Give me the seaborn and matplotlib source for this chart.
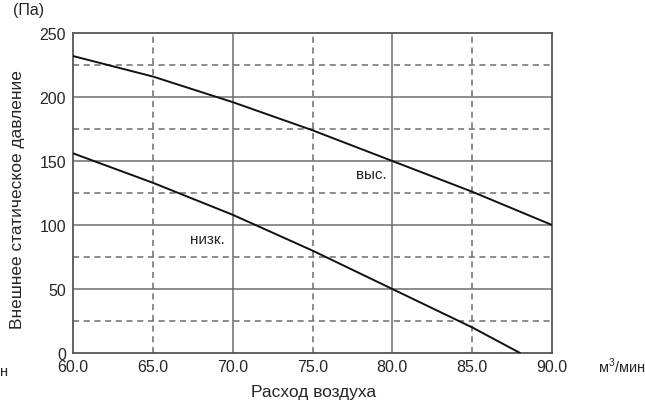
import matplotlib
matplotlib.use("Agg")
import matplotlib.pyplot as plt
import seaborn as sns
import pandas as pd

# data
flow_high = [60, 65, 70, 75, 80, 85, 90]
press_high = [232, 216, 196, 174, 150, 126, 100]
flow_low = [60, 65, 70, 75, 80, 85, 88]
press_low = [156, 133, 108, 80, 50, 20, 0]
x_ticks = [60, 65, 70, 75, 80, 85, 90]
y_ticks = [0, 50, 100, 150, 200, 250]
x_solid = [70, 80]
x_dashed = [65, 75, 85]
y_solid = [50, 100, 150, 200]
y_dashed = [25, 75, 125, 175, 225]

sns.set_style("white")
plt.rcParams['font.family'] = ['Liberation Sans', 'DejaVu Sans']

fig = plt.figure(figsize=(6.45, 4.10), dpi=100)
ax = fig.add_axes([73/645, 1-354/410, (552-73)/645, (354-34)/410])

df = pd.concat([
    pd.DataFrame({"flow": flow_high, "p": press_high, "s": "high"}),
    pd.DataFrame({"flow": flow_low, "p": press_low, "s": "low"}),
])

gc = "#6e6e6e"
for v in x_solid:
    ax.axvline(v, color=gc, lw=1.1, zorder=1)
for v in x_dashed:
    ax.axvline(v, color=gc, lw=1.1, ls=(0, (4, 3)), zorder=1)
for v in y_solid:
    ax.axhline(v, color=gc, lw=1.1, zorder=1)
for v in y_dashed:
    ax.axhline(v, color=gc, lw=1.1, ls=(0, (4, 3)), zorder=1)

sns.lineplot(data=df, x="flow", y="p", units="s", estimator=None, color="#111111",
             lw=1.4, ax=ax, legend=False, zorder=3)

ax.set_xlim(60, 90)
ax.set_ylim(0, 250)
ax.set_xticks(x_ticks)
ax.set_xticklabels([f"{v:.1f}" for v in x_ticks])
ax.set_yticks(y_ticks)
ax.tick_params(axis="x", length=0, labelsize=11.5, pad=4)
ax.tick_params(axis="y", length=0, labelsize=11.5, pad=5)
ax.set_xlabel("")
ax.set_ylabel("")
for s in ax.spines.values():
    s.set_color("#555555")
    s.set_linewidth(1.3)

ax.text(78.7, 140, "выс.", fontsize=11, ha="center", va="center")
ax.text(68.4, 89, "низк.", fontsize=11, ha="center", va="center")

fig.text(29/645, 1-11/410, "(Па)", fontsize=11.5, ha="center", va="center")
fig.text(18/645, 1-200/410, "Внешнее статическое давление", fontsize=12.5,
         rotation=90, ha="center", va="center")
fig.text(314/645, 1-393/410, "Расход воздуха", fontsize=12.5, ha="center", va="center")
fig.text(598/645, 1-366/410, "м$^{\\mathregular{3}}$/мин", fontsize=10.5, ha="left", va="center")
fig.text(9/645, 1-370/410, "м$^{\\mathregular{3}}$/мин", fontsize=10.5, ha="right", va="center")

fig.savefig("out.png", dpi=100)
